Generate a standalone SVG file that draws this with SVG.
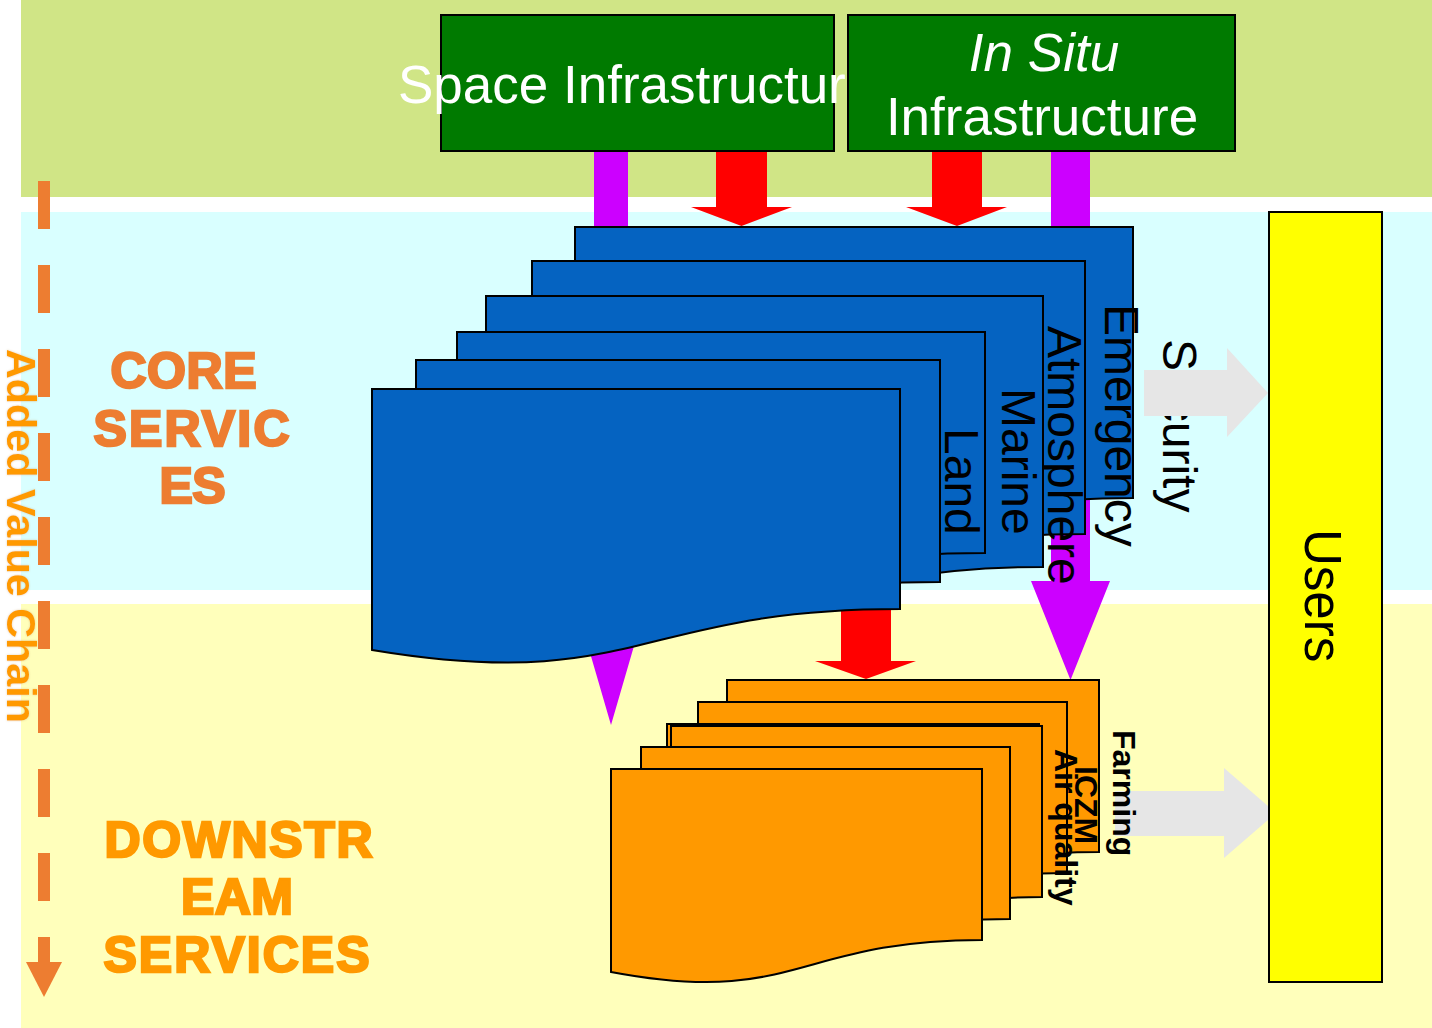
<svg xmlns="http://www.w3.org/2000/svg" width="1432" height="1028" viewBox="0 0 1432 1028">
  <defs>
    <style>
      .txt { font-family: "Liberation Sans", Arial, sans-serif; }
      .doc-blue { fill: #0563C1; stroke: #000; stroke-width: 2; }
      .doc-orange { fill: #FF9900; stroke: #000; stroke-width: 2; }
      .infra { fill: #007A00; stroke: #000; stroke-width: 2; }
      .infra-text { font-size: 53px; fill: #FFFFFF; }
      .blue-lbl { font-size: 48px; fill: #000; }
      .orange-lbl { font-size: 32px; font-weight: bold; fill: #000; }
      .red { fill: #FF0000; }
      .purple { fill: #CC00FF; }
      .grey { fill: #E6E6E6; }
      .core { font-size: 50px; font-weight: bold; fill: #ED7D31; stroke: #ED7D31; stroke-width: 2.5; }
      .down { font-size: 50px; font-weight: bold; fill: #FF9900; stroke: #FF9900; stroke-width: 2.5; }
    </style>
    <filter id="glow" x="-5%" y="-5%" width="110%" height="110%">
      <feGaussianBlur in="SourceAlpha" stdDeviation="1" result="b"/>
      <feFlood flood-color="#C8A060" flood-opacity="0.5"/>
      <feComposite in2="b" operator="in" result="g"/>
      <feMerge><feMergeNode in="g"/><feMergeNode in="SourceGraphic"/></feMerge>
    </filter>
  </defs>

  <!-- background bands -->
  <g id="bands">
    <rect x="0" y="0" width="1432" height="1028" fill="#FFFFFF"/>
    <rect x="21" y="0" width="1411" height="197" fill="#D0E586"/>
    <rect x="21" y="212" width="1411" height="378" fill="#D9FFFF"/>
    <rect x="21" y="604" width="1411" height="424" fill="#FFFFBB"/>
  </g>

  <!-- value chain axis -->
  <g id="value-chain">
    <text class="txt" transform="translate(7,349) rotate(90)" font-size="41" font-weight="bold" fill="#FF9900" textLength="374" lengthAdjust="spacingAndGlyphs" filter="url(#glow)">Added Value Chain</text>
    <line x1="44" y1="181" x2="44" y2="962" stroke="#ED7D31" stroke-width="12" stroke-dasharray="48 36"/>
    <polygon points="26,962 62,962 44,997" fill="#ED7D31"/>
  </g>

  <!-- layer headings -->
  <g id="core-heading" class="txt core" text-anchor="middle">
    <text x="183.5" y="388" textLength="146" lengthAdjust="spacing">CORE</text>
    <text x="191.5" y="446" textLength="196" lengthAdjust="spacing">SERVIC</text>
    <text x="192.5" y="503" textLength="66" lengthAdjust="spacing">ES</text>
  </g>
  <g id="downstream-heading" class="txt down" text-anchor="middle">
    <text x="238.5" y="857" textLength="268" lengthAdjust="spacing">DOWNSTR</text>
    <text x="237" y="914" textLength="112" lengthAdjust="spacing">EAM</text>
    <text x="236.5" y="972" textLength="266" lengthAdjust="spacing">SERVICES</text>
  </g>

  <!-- security label -->
  <g id="security">
    <text class="txt blue-lbl" transform="translate(1163,339) rotate(90)">Security</text>
  </g>

  <!-- flows -->
  <g id="connectors">
    <polygon class="purple" points="594,151 628,151 628,615 643,615 611,725 579,615 594,615"/>
    <polygon class="purple" points="1051,151 1090,151 1090,581 1110,581 1070.5,680 1031,581 1051,581"/>
    <polygon class="red" points="716,151 767,151 767,207 792,207 741.5,226 691,207 716,207"/>
    <polygon class="red" points="932,151 982,151 982,207 1007,207 957,226 906,207 932,207"/>
    <polygon class="red" points="841,600 891,600 891,661 916,661 866,679 815,661 841,661"/>
    <polygon class="grey" points="1115,791 1224,791 1224,768 1276,813 1224,858 1224,836 1115,836"/>
    <polygon class="grey" points="1144,370 1227,370 1227,348 1268,393 1227,437 1227,416 1144,416"/>
  </g>

  <!-- infrastructure -->
  <g id="space-infrastructure">
    <rect class="infra" x="441" y="15" width="393" height="136"/>
    <text class="txt infra-text" x="398" y="103">Space Infrastructure</text>
  </g>
  <g id="in-situ-infrastructure">
    <rect class="infra" x="848" y="15" width="387" height="136"/>
    <text class="txt infra-text" x="1044" y="71" text-anchor="middle" font-style="italic">In Situ</text>
    <text class="txt infra-text" x="1042" y="135" text-anchor="middle">Infrastructure</text>
  </g>

  <!-- core services -->
  <g id="core-emergency">
    <path class="doc-blue" d="M575,227 H1133 V498 C854,498 854,603 575,549 Z"/>
    <text class="txt blue-lbl" transform="translate(1105,304) rotate(90)">Emergency</text>
  </g>
  <g id="core-atmosphere">
    <path class="doc-blue" d="M532,261 H1085 V534 C808,534 808,640 532,585 Z"/>
    <text class="txt blue-lbl" transform="translate(1048,326) rotate(90)">Atmosphere</text>
  </g>
  <g id="core-marine">
    <path class="doc-blue" d="M486,296 H1043 V567 C764,567 764,672 486,618 Z"/>
    <text class="txt blue-lbl" transform="translate(1002,388) rotate(90)">Marine</text>
  </g>
  <g id="core-land">
    <path class="doc-blue" d="M457,332 H985 V553 C721,553 721,638 457,594 Z"/>
    <text class="txt blue-lbl" transform="translate(945,428) rotate(90)">Land</text>
  </g>
  <g id="core-5">
    <path class="doc-blue" d="M416,360 H940 V582 C678,582 678,667 416,623 Z"/>
  </g>
  <g id="core-front">
    <path class="doc-blue" d="M372,389 H900 V609 C636,609 636,694 372,650 Z"/>
  </g>

  <!-- downstream services -->
  <g id="ds-farming">
    <path class="doc-orange" d="M727,680 H1099 V852 C913,852 913,919 727,884 Z"/>
    <text class="txt orange-lbl" transform="translate(1113,730) rotate(90)">Farming</text>
  </g>
  <g id="ds-iczm">
    <path class="doc-orange" d="M698,702 H1067 V873 C882,873 882,940 698,905 Z"/>
    <text class="txt orange-lbl" transform="translate(1075,766) rotate(90)">ICZM</text>
  </g>
  <g id="ds-air-quality">
    <path class="doc-orange" d="M667,724 H1039 V896 C853,896 853,963 667,928 Z"/>
    <path class="doc-orange" d="M671,726 H1042 V897 C856,897 856,964 671,929 Z"/>
    <text class="txt orange-lbl" transform="translate(1055,749) rotate(90)">Air quality</text>
  </g>
  <g id="ds-4">
    <path class="doc-orange" d="M641,747 H1010 V919 C825,919 825,986 641,951 Z"/>
  </g>
  <g id="ds-front">
    <path class="doc-orange" d="M611,769 H982 V940 C796,940 796,1007 611,972 Z"/>
  </g>

  <!-- users -->
  <g id="users">
    <rect x="1269" y="212" width="113" height="770" fill="#FFFF00" stroke="#000" stroke-width="2"/>
    <text class="txt" transform="translate(1305,529) rotate(90)" font-size="51" fill="#000">Users</text>
  </g>
</svg>
